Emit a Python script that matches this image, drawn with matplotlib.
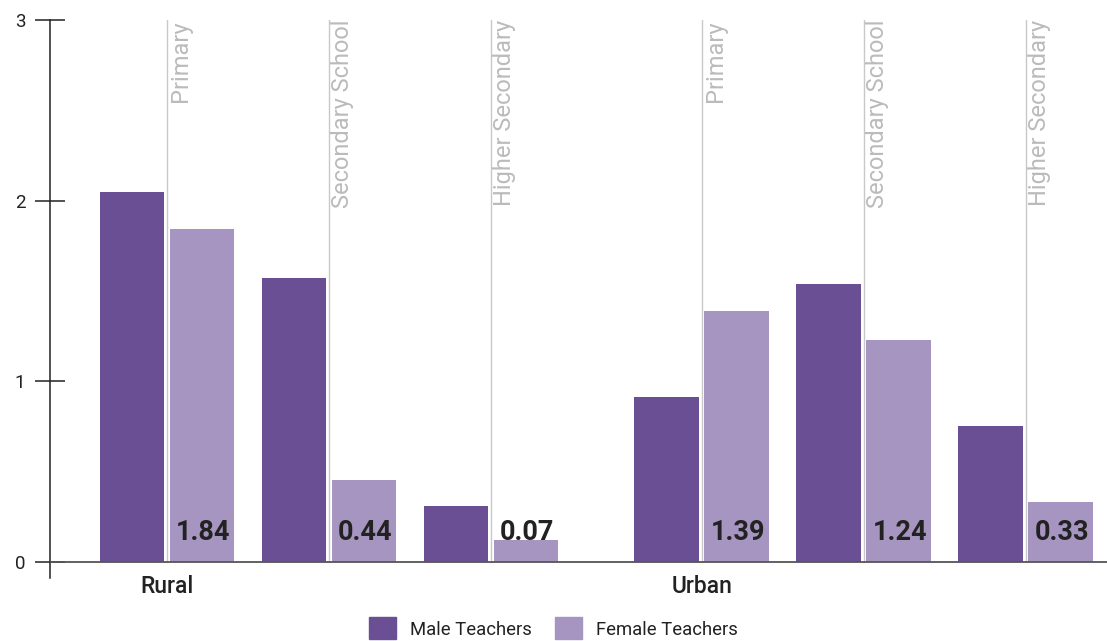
import numpy as np
import matplotlib
matplotlib.use("Agg")
import matplotlib.pyplot as plt
from matplotlib.patches import Patch

plt.rcParams['font.family'] = ['Roboto', 'DejaVu Sans']

groups = ["Rural", "Urban"]
levels = ["Primary", "Secondary School", "Higher Secondary"]
male = [2.05, 1.57, 0.31, 0.91, 1.54, 0.75]
female = [1.84, 0.45, 0.12, 1.39, 1.23, 0.33]
female_labels = ["1.84", "0.44", "0.07", "1.39", "1.24", "0.33"]

MALE_C = "#6a4f94"
FEMALE_C = "#a695c0"
GROUP_GAP = 3.3   # distance between group starts, in subgroup units
BAR_W = 0.40
OFF = 0.216

fig = plt.figure(figsize=(11.07, 6.41), dpi=100)
ax = fig.add_axes([50 / 1107, 1 - 578 / 641, 1 - 50 / 1107, (578 - 20) / 641])

pos = np.array([g * GROUP_GAP + i for g in range(len(groups)) for i in range(len(levels))])

ax.bar(pos - OFF, male, BAR_W, color=MALE_C, zorder=2)
ax.bar(pos + OFF, female, BAR_W, color=FEMALE_C, zorder=2)

for k, x in enumerate(pos):
    ax.plot([x, x], [0, 3], color="#c8c8c8", lw=1, zorder=1)
    ax.text(x + 0.012, 3, levels[k % len(levels)], rotation=90, ha="left", va="top",
            color="#bbbbbb", fontsize=17)
    ax.text(x + OFF - BAR_W / 2 + 0.04, 0.12, female_labels[k], ha="left", va="baseline",
            fontsize=19.5, fontweight="bold", color="#222222", zorder=3)

ax.axhline(0, color="#555555", lw=1.3, zorder=3)

for g, name in enumerate(groups):
    ax.text(g * GROUP_GAP, -0.175, name, ha="center", va="baseline",
            fontsize=16.5, fontweight="medium", color="#222222")

ax.set_xlim(-0.722, 5.802)
ax.set_ylim(-0.09, 3)
ax.set_yticks([0, 1, 2, 3])
ax.tick_params(axis="y", direction="inout", length=21.6, width=1.1, labelsize=13.5,
               pad=7, colors="#222222")
ax.set_xticks([])
for s in ["top", "right", "bottom"]:
    ax.spines[s].set_visible(False)
ax.spines["left"].set_color("#222222")
ax.spines["left"].set_linewidth(1.1)

handles = [Patch(color=MALE_C, label="Male Teachers"),
           Patch(color=FEMALE_C, label="Female Teachers")]
fig.legend(handles=handles, loc="lower center", bbox_to_anchor=(0.5, -0.012), ncol=2,
           frameon=False, fontsize=13.3, handlelength=1.46, handleheight=1.46,
           handletextpad=0.76, columnspacing=1.24, borderpad=0.0,
           labelcolor="#222222")

fig.savefig("out.png", dpi=100)
